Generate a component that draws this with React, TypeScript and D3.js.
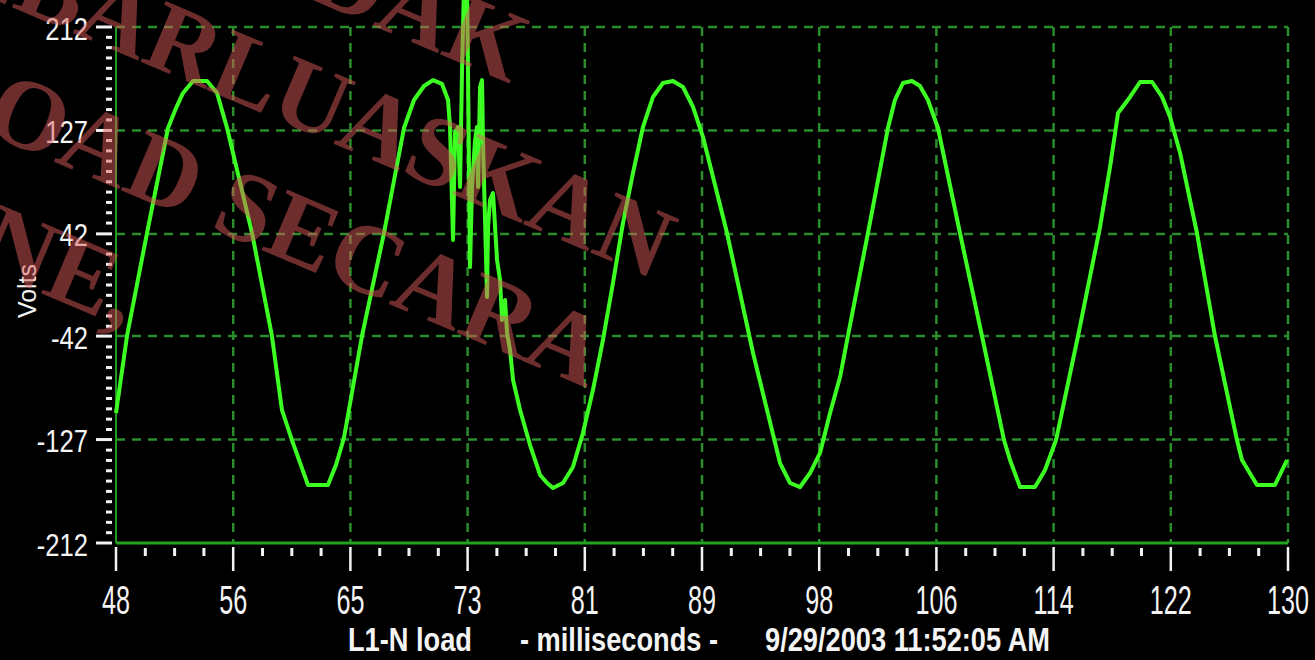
import { useEffect, useRef } from 'react';
import * as d3 from 'd3';

const W = 1315;
const H = 660;

// scope trace: time (ms) and volts, vertex by vertex
const waveMs = [
  48.00, 48.77, 50.17, 51.64, 52.20, 52.69, 53.39, 54.37, 55.07, 55.77, 57.52, 58.91,
  59.61, 60.31, 61.43, 62.83, 63.39, 63.95, 65.21, 66.75, 68.15, 68.85, 69.55, 70.18,
  70.81, 71.23, 71.37, 71.58, 71.72, 71.93, 72.07, 72.21, 72.35, 72.56, 72.63, 72.77,
  72.91, 73.12, 73.26, 73.33, 73.47, 73.61, 73.68, 73.96, 74.03, 74.17, 74.38, 74.66,
  74.87, 75.01, 75.22, 75.36, 75.57, 75.78, 76.27, 76.97, 77.67, 78.16, 78.57, 79.27,
  79.97, 80.67, 81.37, 82.07, 82.77, 83.47, 84.17, 84.87, 85.57, 86.27, 86.97, 87.67,
  88.37, 89.07, 89.77, 90.75, 91.66, 92.57, 93.55, 94.46, 95.16, 95.86, 96.56, 97.26,
  97.96, 98.66, 99.21, 100.61, 102.01, 102.50, 103.06, 103.69, 104.25, 104.81, 105.51, 107.05,
  108.59, 110.13, 110.55, 111.25, 112.30, 113.00, 113.77, 115.31, 116.85, 117.55, 118.11, 118.95,
  119.65, 120.49, 121.19, 121.75, 122.45, 123.63, 124.89, 126.43, 126.78, 127.83, 129.09, 129.93,
];
const waveVolts = [
  -105.2, -41.9, 42.7, 129.0, 145.4, 157.8, 167.6, 167.6, 157.8, 129.0, 42.7, -41.9,
  -102.7, -127.4, -164.3, -164.3, -147.9, -125.7, -41.9, 42.7, 129.0, 152.0, 163.5, 168.4,
  165.2, 152.0, 129.8, 37.0, 124.9, 129.8, 80.5, 176.7, 246.5, 246.5, 174.2, 14.8,
  80.5, 119.1, 129.8, 80.5, 162.7, 168.4, 116.7, -9.9, 47.7, 69.8, 75.6, 20.5,
  4.1, -28.8, -12.3, -39.4, -53.4, -78.1, -102.7, -131.5, -156.1, -162.7, -166.8, -162.7,
  -149.6, -121.6, -86.3, -45.2, 1.6, 50.9, 92.0, 129.8, 154.5, 166.0, 167.6, 162.7,
  146.3, 121.6, 88.7, 42.7, -6.6, -55.9, -102.7, -146.3, -162.7, -166.0, -154.5, -138.0,
  -105.2, -75.6, -41.9, 42.7, 129.0, 152.0, 166.0, 167.6, 163.5, 152.0, 129.0, 42.7,
  -41.9, -127.4, -143.8, -166.0, -166.0, -152.0, -127.4, -41.9, 47.7, 97.0, 141.3, 154.5,
  166.8, 166.8, 154.5, 138.0, 108.5, 42.7, -41.9, -127.4, -143.8, -164.3, -164.3, -143.8,
];

const yTickValues = [212, 127, 42, -42, -127, -212];
const yTickLabels = ['212', '127', '42', '-42', '-127', '-212'];
const xTickLabels = ['48', '56', '65', '73', '81', '89', '98', '106', '114', '122', '130'];

const captionParts = ['L1-N load', '- milliseconds -', '9/29/2003 11:52:05 AM'];
const watermarkLines = ['TIDAK', 'DISEBARLUASKAN', 'DOWNLOAD SECARA', 'ONLINE,'];

export default function App() {
  const svgRef = useRef<SVGSVGElement>(null);

  useEffect(() => {
    const svg = d3.select(svgRef.current);
    svg.selectAll('*').remove();

    const m = { left: 116, right: 1288, top: 27, bottom: 543 };
    const x = d3.scaleLinear().domain([48, 130]).range([m.left, m.right]);
    const y = d3.scaleLinear().domain([-212, 212]).range([m.bottom, m.top]);

    const sans = "'Liberation Sans', Arial, sans-serif";
    const gridColor = '#2b8c2b';

    svg.append('rect').attr('width', W).attr('height', H).attr('fill', '#000');

    // tick positions: 10 even steps across the window, labels come rounded from the scope
    const xMajor = xTickLabels.map((_, i) => 48 + (i * 82) / (xTickLabels.length - 1));
    const xMinor = d3.range(41).filter(i => i % 4 !== 0).map(i => 48 + (i * 82) / 40);
    const yMinor = d3.range(51).filter(i => i % 10 !== 0).map(i => -212 + (i * 424) / 50);

    // ── dashed grid ─────────────────────────────────────
    const grid = svg.append('g')
      .attr('stroke', gridColor).attr('stroke-width', 2.5).attr('stroke-dasharray', '9,7');
    grid.selectAll('line.h').data(yTickValues.filter(v => v !== -212)).join('line')
      .attr('class', 'h')
      .attr('x1', m.left).attr('x2', m.right)
      .attr('y1', d => y(d)).attr('y2', d => y(d));
    grid.selectAll('line.v').data(xMajor.slice(1)).join('line')
      .attr('class', 'v')
      .attr('x1', d => x(d)).attr('x2', d => x(d))
      .attr('y1', m.top).attr('y2', m.bottom);

    // ── solid axes ──────────────────────────────────────
    svg.append('line')
      .attr('x1', m.left).attr('x2', m.left).attr('y1', m.top).attr('y2', m.bottom)
      .attr('stroke', '#1f9d1f').attr('stroke-width', 2);
    svg.append('line')
      .attr('x1', m.left).attr('x2', m.right).attr('y1', m.bottom).attr('y2', m.bottom)
      .attr('stroke', '#22a322').attr('stroke-width', 3);

    // ── white tick marks ────────────────────────────────
    const ticks = svg.append('g').attr('stroke', '#f2f2f2');
    ticks.selectAll('line.ym').data(yMinor).join('line')
      .attr('class', 'ym')
      .attr('x1', 106).attr('x2', 112)
      .attr('y1', d => y(d)).attr('y2', d => y(d))
      .attr('stroke-width', 3);
    ticks.selectAll('line.yM').data(yTickValues).join('line')
      .attr('class', 'yM')
      .attr('x1', 96).attr('x2', 112)
      .attr('y1', d => y(d)).attr('y2', d => y(d))
      .attr('stroke-width', 3);
    ticks.selectAll('line.xm').data(xMinor).join('line')
      .attr('class', 'xm')
      .attr('x1', d => x(d)).attr('x2', d => x(d))
      .attr('y1', 548).attr('y2', 556)
      .attr('stroke-width', 3);
    ticks.selectAll('line.xM').data(xMajor).join('line')
      .attr('class', 'xM')
      .attr('x1', d => x(d)).attr('x2', d => x(d))
      .attr('y1', 547).attr('y2', 571)
      .attr('stroke-width', 2.5);

    // ── tick labels (narrow scope font) ─────────────────
    svg.append('g').selectAll('text').data(xMajor).join('text')
      .attr('transform', d => `translate(${x(d)},614) scale(0.63,1)`)
      .attr('text-anchor', 'middle')
      .attr('font-family', sans).attr('font-size', 40).attr('fill', '#f4f4f4')
      .text((_, i) => xTickLabels[i]);

    svg.append('g').selectAll('text').data(yTickValues).join('text')
      .attr('transform', d => `translate(88,${y(d) + 12.5}) scale(0.8,1)`)
      .attr('text-anchor', 'end')
      .attr('font-family', sans).attr('font-size', 32).attr('fill', '#f4f4f4')
      .text((_, i) => yTickLabels[i]);

    svg.append('text')
      .attr('transform', 'translate(36,291) rotate(-90)')
      .attr('text-anchor', 'middle')
      .attr('font-family', sans).attr('font-size', 25).attr('fill', '#f4f4f4')
      .text('Volts');

    // ── caption under the axis ──────────────────────────
    const capX = [348, 520, 765];
    const capLen = [124, 198, 285];
    svg.append('g').selectAll('text').data(captionParts).join('text')
      .attr('x', (_, i) => capX[i]).attr('y', 651)
      .attr('textLength', (_, i) => capLen[i]).attr('lengthAdjust', 'spacingAndGlyphs')
      .attr('font-family', sans).attr('font-weight', 700).attr('font-size', 34)
      .attr('fill', '#f4f4f4')
      .text(d => d);

    // ── waveform ────────────────────────────────────────
    const line = d3.line<number>()
      .x((_, i) => x(waveMs[i]))
      .y(d => y(d));
    svg.append('path')
      .attr('d', line(waveVolts))
      .attr('fill', 'none').attr('stroke', '#3cff22').attr('stroke-width', 4)
      .attr('stroke-linejoin', 'round');

    // ── watermark overlay (runs off the page edges like the original) ──
    const wmEnds = [[-210, -124], [0, 0], [-20, 126], [-470, 252]];
    const wm = svg.append('g')
      .attr('transform', 'translate(655,280) rotate(23)')
      .attr('fill', '#dc5a5a').attr('fill-opacity', 0.5)
      .attr('font-family', "'Liberation Serif', 'Times New Roman', serif")
      .attr('font-weight', 700)
      .attr('font-size', 100).attr('text-anchor', 'end');
    wm.selectAll('text').data(watermarkLines).join('text')
      .attr('x', (_, i) => wmEnds[i][0]).attr('y', (_, i) => wmEnds[i][1])
      .text(d => d);
  }, []);

  return (
    <svg
      ref={svgRef}
      width={W}
      height={H}
      style={{ position: 'absolute', left: 0, top: 0, display: 'block' }}
    />
  );
}
